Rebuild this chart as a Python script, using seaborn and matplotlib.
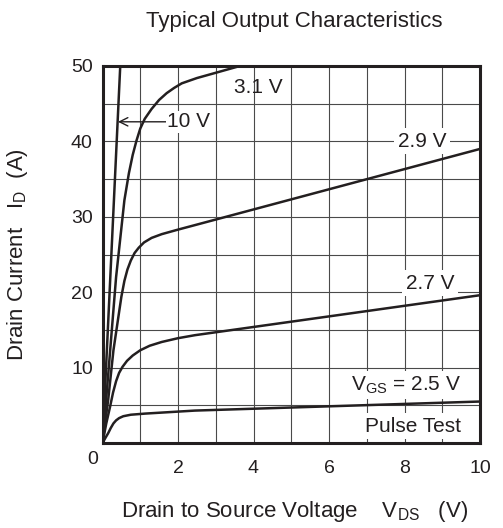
import matplotlib
matplotlib.use("Agg")
import matplotlib.pyplot as plt
import seaborn as sns
import pandas as pd

# ---- data ----
vds_10v = [0.0, 0.47]
id_10v = [0.0, 50.0]

vds_31v = [0.0, 0.15, 0.36, 0.58, 0.7, 0.8, 0.9, 1.0, 1.12, 1.3, 1.5, 1.7, 1.9, 2.1, 2.5, 3.0, 3.64, 4.5]
id_31v = [0.0, 9.0, 22.0, 32.2, 35.8, 38.2, 40.1, 41.7, 43.0, 44.3, 45.5, 46.4, 47.1, 47.7, 48.4, 49.1, 50.0, 51.2]

vds_29v = [0.0, 0.15, 0.29, 0.42, 0.5, 0.58, 0.66, 0.75, 0.85, 0.96, 1.1, 1.3, 1.57, 2.0, 2.45, 10.0]
id_29v = [0.0, 5.7, 12.3, 16.7, 19.4, 21.5, 23.0, 24.2, 25.2, 25.9, 26.6, 27.2, 27.7, 28.3, 28.9, 39.0]

vds_27v = [0.0, 0.1, 0.2, 0.28, 0.36, 0.44, 0.53, 0.65, 0.8, 1.0, 1.25, 1.57, 2.0, 2.45, 10.0]
id_27v = [0.0, 2.6, 4.8, 6.7, 8.2, 9.3, 10.1, 10.9, 11.6, 12.3, 12.9, 13.4, 13.9, 14.3, 19.6]

vds_25v = [0.0, 0.08, 0.15, 0.22, 0.29, 0.36, 0.44, 0.55, 0.75, 1.13, 2.45, 10.0]
id_25v = [0.0, 0.7, 1.3, 2.0, 2.6, 3.0, 3.3, 3.55, 3.75, 3.9, 4.3, 5.5]

series_names = ["10 V", "3.1 V", "2.9 V", "2.7 V", "2.5 V"]
x_tick_vals = [2, 4, 6, 8, 10]
x_tick_labels = ["2", "4", "6", "8", "10"]
y_tick_vals = [10, 20, 30, 40, 50]
y_tick_labels = ["10", "20", "30", "40", "50"]

frames = []
for name, xs, ys in zip(series_names,
                        [vds_10v, vds_31v, vds_29v, vds_27v, vds_25v],
                        [id_10v, id_31v, id_29v, id_27v, id_25v]):
    frames.append(pd.DataFrame({"vds": xs, "id": ys, "vgs": name}))
df = pd.concat(frames, ignore_index=True)

sns.set_theme(style="white")
plt.rcParams["font.family"] = ["Liberation Sans", "DejaVu Sans"]
plt.rcParams["mathtext.fontset"] = "custom"
plt.rcParams["mathtext.rm"] = "Liberation Sans"
plt.rcParams["mathtext.it"] = "Liberation Sans"

ink = "#231f20"

fig = plt.figure(figsize=(5.03, 5.28), dpi=100)
ax = fig.add_axes([102.5 / 503, 1 - 443 / 528, 377.5 / 503, 377 / 528])

sns.lineplot(data=df, x="vds", y="id", hue="vgs", units="vgs", estimator=None,
             sort=False, palette=[ink] * 5, legend=False, linewidth=1.8,
             ax=ax, zorder=3)
for ln in ax.lines:
    ln.set_solid_joinstyle("round")

ax.set_xlim(0, 10)
ax.set_ylim(0, 50)
ax.set_xticks(x_tick_vals)
ax.set_xticklabels(x_tick_labels)
ax.set_xticks([1, 3, 5, 7, 9], minor=True)
ax.set_yticks(y_tick_vals)
ax.set_yticklabels(y_tick_labels)
ax.set_yticks([5, 15, 25, 35, 45], minor=True)
ax.grid(True, which="both", color="#4a4a4a", linewidth=0.8, zorder=0)
ax.set_axisbelow(True)
ax.tick_params(axis="both", which="both", length=0, labelsize=14, colors=ink)
ax.tick_params(axis="x", pad=12)
ax.tick_params(axis="y", pad=7)
for s in ax.spines.values():
    s.set_linewidth(2.2)
    s.set_color(ink)
    s.set_visible(True)
    s.set_zorder(4)

ax.set_xlabel("")
ax.set_ylabel("")

ax.text(-0.025, -0.044, "0", transform=ax.transAxes, ha="center", va="center",
        fontsize=14, color=ink)

box = dict(facecolor="white", edgecolor="none", pad=2.5)
ax.text(4.12, 47.1, "3.1 V", ha="center", va="center", fontsize=15, color=ink, zorder=2)
ax.text(8.46, 40.0, "2.9 V", ha="center", va="center", fontsize=15, color=ink,
        bbox=box, zorder=2)
ax.text(8.68, 21.2, "2.7 V", ha="center", va="center", fontsize=15, color=ink,
        bbox=box, zorder=2)
ax.text(8.04, 7.7, r"$\mathregular{V_{GS}}$ = 2.5 V", ha="center", va="center",
        fontsize=15, color=ink, bbox=box, zorder=2)
ax.text(8.22, 2.25, "Pulse Test", ha="center", va="center", fontsize=15, color=ink,
        bbox=box, zorder=2)
ax.annotate("10 V", xy=(0.41, 42.6), xytext=(2.29, 42.6), ha="center", va="center",
            fontsize=15, color=ink, bbox=dict(facecolor="white", edgecolor="none", pad=1),
            arrowprops=dict(arrowstyle="->", color=ink, lw=1.0, shrinkA=0, shrinkB=0),
            zorder=2)

fig.text(294 / 503, 1 - 27 / 528, "Typical Output Characteristics", ha="center",
         va="baseline", fontsize=16, color=ink)
fig.text(295 / 503, 1 - 512 / 528,
         r"Drain to Source Voltage    $\mathregular{V_{DS}}$   (V)", ha="center",
         va="center", fontsize=16, color=ink)
fig.text(18 / 503, 1 - 255 / 528, r"Drain Current   $\mathregular{I_D}$  (A)",
         ha="center", va="center", rotation=90, fontsize=16, color=ink)

fig.savefig("out.png", dpi=100)
